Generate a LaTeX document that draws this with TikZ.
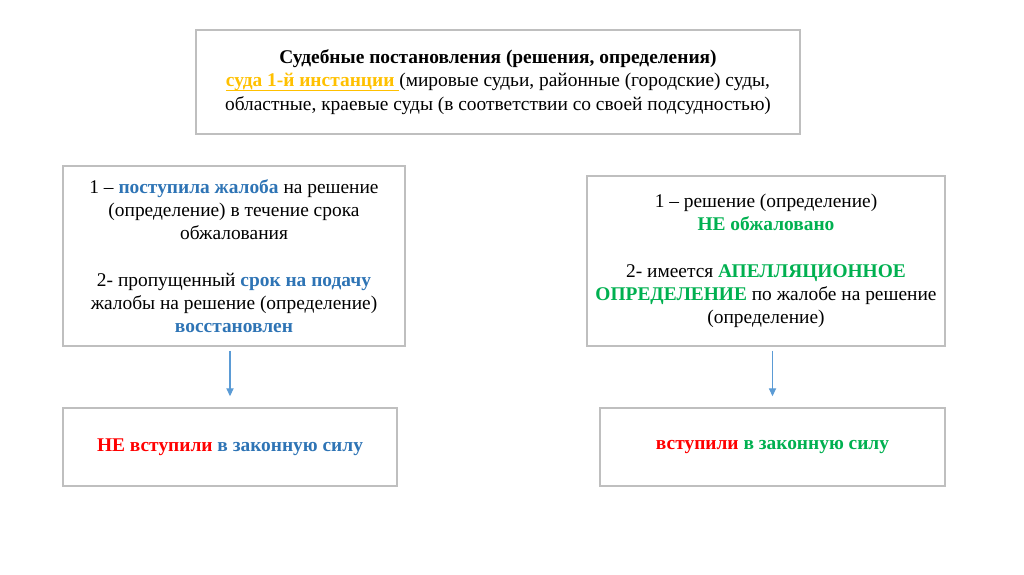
\documentclass[tikz,border=0pt]{standalone}
\usepackage{fontspec}
\setmainfont{Liberation Serif}
\usepackage{tikz}
\usetikzlibrary{arrows.meta}

\definecolor{boxgray}{HTML}{BFBFBF}
\definecolor{arrowblue}{HTML}{5B9BD5}
\definecolor{courtblue}{HTML}{2E74B5}
\definecolor{courtgreen}{HTML}{00B050}
\definecolor{courtred}{HTML}{FF0000}
\definecolor{courtorange}{HTML}{FFC000}

\newcommand{\bluebf}[1]{\textcolor{courtblue}{\textbf{#1}}}
\newcommand{\greenbf}[1]{\textcolor{courtgreen}{\textbf{#1}}}
\newcommand{\redbf}[1]{\textcolor{courtred}{\textbf{#1}}}
\newlength{\courtlinelen}
\newcommand{\courtunderline}[1]{\settowidth{\courtlinelen}{#1}\rlap{\rule[-2.3pt]{\courtlinelen}{0.7pt}}#1}

\begin{document}
\begin{tikzpicture}[x=0.5pt,y=-0.5pt]
\tikzset{box/.style = {draw=boxgray, line width=0.75pt, align=center, inner sep=0pt,
  font=\fontsize{9.7pt}{11.6pt}\selectfont}}
\tikzset{edge/.style = {-{Triangle[length=4pt,width=3.6pt]}, draw=arrowblue, fill=arrowblue, line width=0.55pt}}
\useasboundingbox (0,0) rectangle (1024,574);

\node[box, minimum width=302pt, minimum height=52pt] (court) at (498,82)
  {\textbf{Судебные постановления (решения, определения)}\\
   \textcolor{courtorange}{\textbf{\courtunderline{суда 1-й инстанции\ }}}(мировые судьи, районные (городские) суды,\\
   областные, краевые суды (в соответствии со своей подсудностью)};

\node[box, minimum width=171pt, minimum height=90pt] (appealed) at (234,256)
  {1 – \bluebf{поступила жалоба} на решение\\
   (определение) в течение срока\\
   обжалования\\[11.6pt]
   2- пропущенный \bluebf{срок на подачу}\\
   жалобы на решение (определение)\\
   \bluebf{восстановлен}};

\node[box, minimum width=179pt, minimum height=85pt] (final) at (766,261)
  {1 – решение (определение)\\
   \greenbf{НЕ обжаловано}\\[11.6pt]
   2- имеется \greenbf{АПЕЛЛЯЦИОННОЕ}\\
   \greenbf{ОПРЕДЕЛЕНИЕ} по жалобе на решение\\
   (определение)};

\node[box, minimum width=167pt, minimum height=39pt] (notforce) at (230,447)
  {\redbf{НЕ вступили} \bluebf{в законную силу}};
\node[box, minimum width=172.5pt, minimum height=39pt] (force) at (772.5,447)
  {\redbf{вступили} \greenbf{в законную силу}};

\draw[edge, shorten <=2pt, shorten >=5.5pt] (appealed.south -| notforce.north) -- (notforce.north);
\draw[edge, shorten <=2pt, shorten >=5.5pt] (final.south -| force.north) -- (force.north);

\end{tikzpicture}
\end{document}
